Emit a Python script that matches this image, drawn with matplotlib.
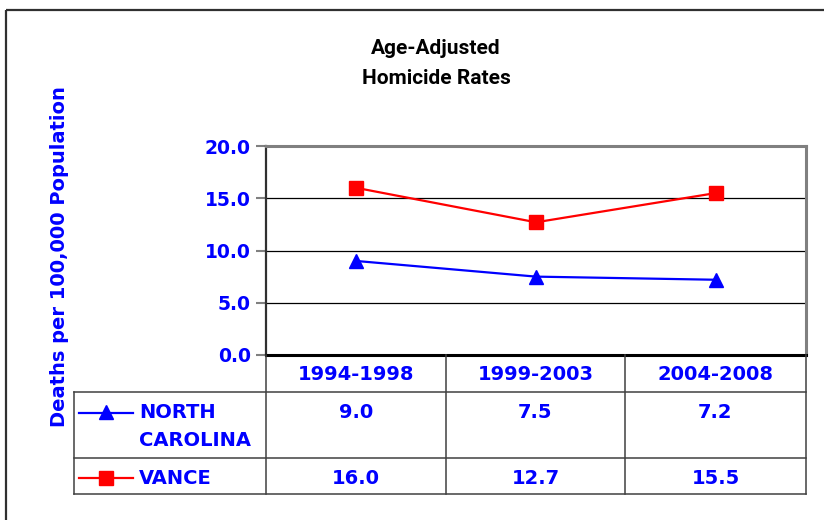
import matplotlib
matplotlib.use("Agg")
import matplotlib.pyplot as plt
from matplotlib.patches import Rectangle
from matplotlib import font_manager

periods = ["1994-1998", "1999-2003", "2004-2008"]
nc_values = [9.0, 7.5, 7.2]
vance_values = [16.0, 12.7, 15.5]
series_names = ["NORTH\nCAROLINA", "VANCE"]
yticks = [0.0, 5.0, 10.0, 15.0, 20.0]

W, H = 824, 520
fig = plt.figure(figsize=(W / 100, H / 100), dpi=100)
FONT = "DejaVu Sans"
BLUE = "#0000FF"
RED = "#FF0000"

names = {f.name for f in font_manager.fontManager.ttflist}
TITLE_FONT = "Liberation Sans Narrow" if "Liberation Sans Narrow" in names else "Roboto"

def fx(px):
    return px / W

def fy(py):
    return 1 - py / H

# main plot area
L, R, T, B = 266, 806, 146, 355
ax = fig.add_axes([fx(L), fy(B), fx(R) - fx(L), fy(T) - fy(B)])
x = list(range(len(periods)))
ax.plot(x, vance_values, color=RED, lw=1.6, marker="s", ms=10, zorder=3)
ax.plot(x, nc_values, color=BLUE, lw=1.6, marker="^", ms=10.5, zorder=3)
ax.set_xlim(-0.5, len(periods) - 0.5)
ax.set_ylim(0, 20)
ax.set_yticks(yticks)
ax.set_yticklabels([f"{v:.1f}" for v in yticks], color=BLUE, fontsize=13.5,
                   fontweight="bold", family=FONT)
ax.set_xticks([])
ax.tick_params(axis="y", length=7, width=1.5, color="#808080", pad=4)
for v in yticks[1:-1]:
    ax.axhline(v, color="black", lw=0.9, zorder=1)
ax.spines["top"].set_color("#808080")
ax.spines["top"].set_linewidth(2.2)
ax.spines["right"].set_color("#808080")
ax.spines["right"].set_linewidth(2.2)
ax.spines["left"].set_color("#303030")
ax.spines["left"].set_linewidth(1.6)
ax.spines["bottom"].set_color("black")
ax.spines["bottom"].set_linewidth(2.2)

# overlay in pixel coordinates
ov2 = fig.add_axes([0, 0, 1, 1], zorder=5)
ov2.set_xlim(0, W)
ov2.set_ylim(H, 0)
ov2.axis("off")
ov2.patch.set_alpha(0)

# outer border
ov2.add_patch(Rectangle((6, 10), 830, 530, fill=False, ec="#303030", lw=1.6))

# title
ov2.text(436, 48, "Age-Adjusted", ha="center", va="center", fontsize=15,
         fontweight="bold", family=[TITLE_FONT, "DejaVu Sans"], color="black")
ov2.text(436, 78, "Homicide Rates", ha="center", va="center", fontsize=15,
         fontweight="bold", family=[TITLE_FONT, "DejaVu Sans"], color="black")

# y label
ov2.text(60, 257, "Deaths per 100,000 Population", rotation=90, ha="center",
         va="center", fontsize=14, fontweight="bold", family=FONT, color=BLUE)

# data table
cols = [266, 446, 625, 806]
lc = "#404040"
for cx in cols:
    ov2.plot([cx, cx], [355, 494], color=lc, lw=1.1)
ov2.plot([74, 74], [392, 494], color=lc, lw=1.1)
for ry in [392, 458, 494]:
    ov2.plot([74, 806], [ry, ry], color=lc, lw=1.1)

TS = 14
for i, p in enumerate(periods):
    cx = (cols[i] + cols[i + 1]) / 2
    ov2.text(cx, 375, p, ha="center", va="center", fontsize=TS,
             fontweight="bold", family=FONT, color=BLUE)
    ov2.text(cx, 413, f"{nc_values[i]:.1f}", ha="center", va="center",
             fontsize=TS, fontweight="bold", family=FONT, color=BLUE)
    ov2.text(cx, 478, f"{vance_values[i]:.1f}", ha="center", va="center",
             fontsize=TS, fontweight="bold", family=FONT, color=BLUE)

# legend keys
ov2.plot([79, 133], [413, 413], color=BLUE, lw=1.6)
ov2.plot([106], [412], color=BLUE, marker="^", ms=10.5)
ov2.plot([79, 133], [478, 478], color=RED, lw=1.6)
ov2.plot([106], [478], color=RED, marker="s", ms=10)
nc_lines = series_names[0].split("\n")
ov2.text(139, 413, nc_lines[0], ha="left", va="center", fontsize=TS,
         fontweight="bold", family=FONT, color=BLUE)
ov2.text(139, 441, nc_lines[1], ha="left", va="center", fontsize=TS,
         fontweight="bold", family=FONT, color=BLUE)
ov2.text(139, 478, series_names[1], ha="left", va="center", fontsize=TS,
         fontweight="bold", family=FONT, color=BLUE)

fig.savefig("out.png", dpi=100)
